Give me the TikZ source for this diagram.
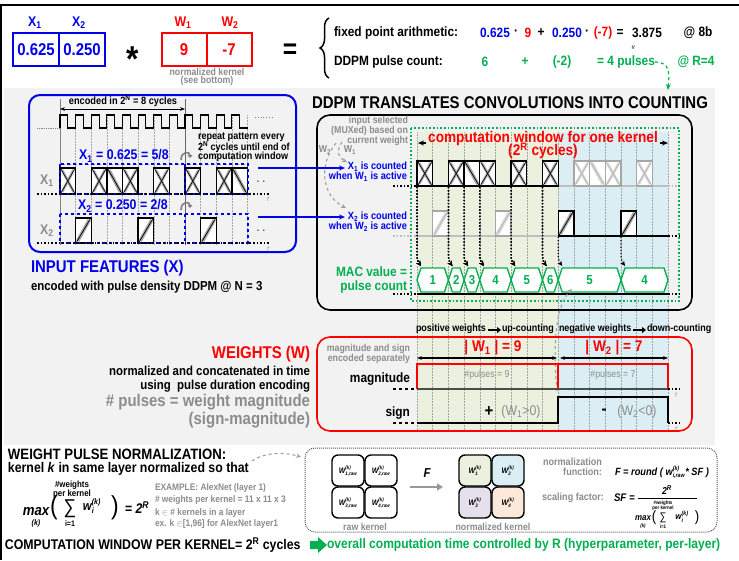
\documentclass[tikz,border=0pt]{standalone}
\usepackage{fontspec}
\setmainfont{Liberation Sans}[FakeStretch=0.88]
\usetikzlibrary{arrows.meta,decorations.pathreplacing}
\definecolor{cBlue}{RGB}{0,0,235}
\definecolor{cRed}{RGB}{255,0,0}
\definecolor{cGreen}{RGB}{0,176,80}
\definecolor{cGrey}{RGB}{140,140,140}
\definecolor{cBg}{RGB}{242,242,242}
\definecolor{cLG}{RGB}{235,241,222}
\definecolor{cLB}{RGB}{218,238,243}
\definecolor{cLV}{RGB}{229,224,236}
\definecolor{cLP}{RGB}{253,233,217}
\colorlet{kO}{black}\colorlet{kI}{black!35}\colorlet{kH}{black}
\colorlet{gO}{black!35}\colorlet{gI}{black!15}\colorlet{gH}{black!30}
\newcommand{\fsz}[2]{\fontsize{#1}{#2}\selectfont}
\newcommand{\wsup}[4]{#1$^{\mbox{\fsz{#4}{#4}#2}}_{\mbox{\fsz{#4}{#4}#3}}$}
\newcommand{\mycross}[5]{%
  \fill[white] (#1,#2) rectangle ++(#3,#4);
  \draw[#5I,line width=2.6pt] (#1+2,#2+2) -- ++(#3-4,#4-4) (#1+2,#2+#4-2) -- ++(#3-4,-#4+4);
  \draw[#5H,line width=0.6pt] (#1+1,#2+1) -- ++(#3-2,#4-2) (#1+1,#2+#4-1) -- ++(#3-2,-#4+2);
  \draw[#5O,line width=1.3pt] (#1,#2) rectangle ++(#3,#4);}
\newcommand{\mydiagA}[5]{%
  \fill[white] (#1,#2) rectangle ++(#3,#4);
  \draw[#5I,line width=3.5pt] (#1+2,#2+2) -- ++(#3-4,#4-4);
  \draw[#5H,line width=0.7pt] (#1+1,#2+1) -- ++(#3-2,#4-2);
  \draw[#5O,line width=1.3pt] (#1,#2) rectangle ++(#3,#4);}
\newcommand{\mydiagB}[5]{%
  \fill[white] (#1,#2) rectangle ++(#3,#4);
  \draw[#5I,line width=3.5pt] (#1+2,#2+#4-2) -- ++(#3-4,-#4+4);
  \draw[#5H,line width=0.7pt] (#1+1,#2+#4-1) -- ++(#3-2,-#4+2);
  \draw[#5O,line width=1.3pt] (#1,#2) rectangle ++(#3,#4);}
\begin{document}
\begin{tikzpicture}[x=1pt,y=-1pt,
  every node/.style={inner sep=0pt,outer sep=0pt},
  tb/.style={font={\bfseries\fsz{#1}{#1}}},
  tbi/.style={font={\bfseries\itshape\fsz{#1}{#1}}},
  arr/.style={-{Stealth[length=6pt,width=5pt]}},
  darr/.style={line width=1.2pt, dotted, -{Stealth[length=5pt,width=4.5pt]}},
  gdash/.style={gray!75, dashed, line width=1.1pt, -{Stealth[length=5pt,width=4.5pt]}},
  gridl/.style={gray!70, densely dotted, line width=0.5pt},
  ksq/.style={line width=1.4pt, rounded corners=6pt}]
\useasboundingbox (0,0) rectangle (739,560);
\fill[white] (0,0) rectangle (739,560);
\fill[cBg] (4,88) rectangle (715,445);
\draw[line width=2.2pt] (0,5) -- (739,5);
\draw[line width=2pt] (1,5) -- (1,560);

% ---------------- top row
\node[tb=14,text=cBlue] (lx1) at (35,23) {X\textsubscript{1}};
\node[tb=14,text=cBlue] (lx2) at (79,23) {X\textsubscript{2}};
\node[tb=14,text=cRed] (lw1) at (183,23) {W\textsubscript{1}};
\node[tb=14,text=cRed] (lw2) at (230,23) {W\textsubscript{2}};
\draw[cBlue,line width=1.8pt] (13,33) rectangle (105,66) (59,33) -- (59,66);
\node[tb=17,text=cBlue] (vx1) at (36,50) {0.625};
\node[tb=17,text=cBlue] (vx2) at (82,50) {0.250};
\node[font={\bfseries\fsz{36}{36}}] (star) at (133,59) {*};
\draw[cRed,line width=1.8pt] (162,33) rectangle (252,66) (207,33) -- (207,66);
\node[tb=17,text=cRed] (vw1) at (184,50) {9};
\node[tb=17,text=cRed] (vw2) at (229,50) {-7};
\node[tb=10,text=cGrey] (nk1) at (207,72) {normalized kernel};
\node[tb=10,text=cGrey] (nk2) at (207,81) {(see bottom)};
\node[font={\bfseries\fsz{28}{28}}] (eq) at (290,51) {=};
\draw[line width=1.5pt, decorate, decoration={brace, amplitude=9pt}] (329,78) -- (329,18);
\node[tb=13.5,anchor=west] (fpa) at (334,33) {fixed point arithmetic:};
\node[tb=13.5,anchor=west] (dpc) at (334,62) {DDPM pulse count:};
\node[tb=13.5,text=cBlue] (e1) at (495,33) {0.625};
\node[tb=13.5] (e2) at (516,33) {·};
\node[tb=13.5,text=cRed] (e3) at (528,33) {9};
\node[tb=13.5] (e4) at (541,33) {+};
\node[tb=13.5,text=cBlue] (e5) at (567,33) {0.250};
\node[tb=13.5] (e6) at (587,33) {·};
\node[tb=13.5,text=cRed] (e7) at (603,33) {(-7)};
\node[tb=13.5] (e8) at (620,33) {=};
\node[tb=13.5] (e9) at (647,33) {3.875};
\node[tb=13.5] (e10) at (698,33) {@ 8b};
\node[font=\fsz{8}{8},rotate=90] (approx) at (634,48) {≈};
\node[tb=13.5,text=cGreen] (g1) at (485,62) {6};
\node[tb=13.5,text=cGreen] (g2) at (525,62) {+};
\node[tb=13.5,text=cGreen] (g3) at (562,62) {(-2)};
\node[tb=13.5,text=cGreen] (g4) at (626,62) {= 4 pulses};
\node[tb=13.5,text=cGreen] (g5) at (696,62) {@ R=4};
\draw[cGreen, dashed, line width=1.2pt, arr] (g4.east) .. controls (671,62) and (669,74) .. (668,90);

% ---------------- input features panel
\draw[cBlue, line width=2pt, rounded corners=11pt] (29,95) rectangle (296,252);
\foreach \k in {1,...,12} \draw[gridl] ({60+15.625*\k},115) -- ({60+15.625*\k},245);
\draw[gray, line width=0.6pt] (60,99) -- (60,245);
\draw[black!60, line width=1pt] (185,99) -- (185,245);
\draw[line width=1pt, {Stealth[length=5pt]}-{Stealth[length=5pt]}] (60,109) -- (185,109);
\node[tb=10.5] (enc) at (123,101) {encoded in 2\textsuperscript{N} = 8 cycles};
\draw[gray, densely dotted, line width=0.8pt] (37,128) -- (60,128);
\draw[line width=1.1pt] (60,128) foreach \k in {0,...,11} { -- ({60+15.625*\k},115) -- ({60+15.625*\k+7.8},115) -- ({60+15.625*\k+7.8},128) -- ({60+15.625*(\k+1)},128) };
\draw[gray, dotted, line width=0.8pt] (255,117) -- (273,117);
\node[tb=10.3,anchor=west] (rp1) at (198,137) {repeat pattern every};
\node[tb=10.3,anchor=west] (rp2) at (198,147) {2\textsuperscript{N} cycles until end of};
\node[tb=10.3,anchor=west] (rp3) at (198,157) {computation window};
\node[tb=14,text=cBlue] (x1eq) at (124,156) {X\textsubscript{1} = 0.625 = 5/8};
\node[tb=14,text=cBlue] (x2eq) at (123,206) {X\textsubscript{2} = 0.250 = 2/8};
\foreach \yy in {160,210}
  \draw[gray, line width=1.6pt, -{Triangle[length=3pt,width=5pt]}] (181,\yy) .. controls (181,\yy-9) and (190,\yy-9) .. (190,\yy-2);
% X1 row
\foreach \k in {0,2,4,6,8,10} \mycross{60+15.625*\k}{168}{15.625}{26}{k}
\foreach \k in {3,11} \mydiagA{60+15.625*\k}{168}{15.625}{26}{k}
% X2 row
\foreach \k in {1,5,9} \mydiagB{60+15.625*\k}{218}{15.625}{25}{k}
\draw[cBlue, dashed, line width=1.2pt] (60,164) rectangle (248,194) (185,164) -- (185,194);
\draw[cBlue, dashed, line width=1.2pt] (60,214) rectangle (248,243) (185,214) -- (185,243);
\draw[line width=1.6pt, dotted] (37,194) -- (270,194);
\draw[line width=1.6pt, dotted] (37,243) -- (270,243);
\node[tb=14,text=cGrey] (lbx1) at (47,181) {X\textsubscript{1}};
\node[tb=14,text=cGrey] (lbx2) at (47,231) {X\textsubscript{2}};
\node[tb=10,text=black!70] (dd1) at (261,182) {. .};
\node[tb=10,text=black!70] (dd2) at (261,231) {. .};
\node[font=\itshape\fsz{6}{6},text=cGrey] (t1) at (268,199) {T};
\node[font=\itshape\fsz{6}{6},text=cGrey] (t2) at (268,249) {T};
\node[tb=17,text=cBlue,anchor=west] (inf) at (31,268) {INPUT FEATURES (X)};
\node[tb=13,anchor=west] (inf2) at (31,287) {encoded with pulse density DDPM @ N = 3};

% ---------------- DDPM panel
\fill[cLG] (417,132) rectangle (558.2,430);
\fill[cLB] (558.2,132) rectangle (668,430);
\foreach \k in {0,...,16} \draw[gridl] ({417+15.6875*\k},132) -- ({417+15.6875*\k},430);
\node[tb=17] (ttl) at (510,103) {DDPM TRANSLATES CONVOLUTIONS INTO COUNTING};
\draw[line width=1.6pt, rounded corners=13pt] (317,115) rectangle (692,310);
\draw[cGreen, dotted, line width=1.7pt] (411,128) rectangle (679,301);
\node[tb=15.5,text=cRed] (cw1) at (543,138) {computation window for one kernel};
\node[tb=15.5,text=cRed] (cw2) at (543,151) {(2\textsuperscript{R} cycles)};
\draw[line width=1.1pt, arr] (cw1.west) ++(-2,5) -- (418,143);
\draw[line width=1.1pt, arr] (cw1.east) ++(2,5) -- (668,143);
\node[tb=10,text=cGrey,anchor=east] (is1) at (408,121) {input selected};
\node[tb=10,text=cGrey,anchor=east] (is2) at (408,131) {(MUXed) based on};
\node[tb=10,text=cGrey,anchor=east] (is3) at (408,141) {current weight};
\node[tb=10,text=cGrey] (mw2) at (325,150) {W\textsubscript{2}};
\node[tb=10,text=cGrey] (mw1) at (350,150) {W\textsubscript{1}};
\draw[gdash] (342,142) .. controls (336,150) and (338,158) .. (347,162);
\draw[gdash] (336,143) .. controls (318,165) and (322,196) .. (346,208);
\draw[cBlue, line width=1.3pt, arr] (258,168) -- (345,168);
\draw[cBlue, line width=1.3pt, arr] (258,217) -- (345,217);
\node[tb=10.5,text=cBlue,anchor=east] (c1) at (407,167) {X\textsubscript{1} is counted};
\node[tb=10.5,text=cBlue,anchor=east] (c2) at (407,177) {when W\textsubscript{1} is active};
\node[tb=10.5,text=cBlue,anchor=east] (c3) at (407,217) {X\textsubscript{2} is counted};
\node[tb=10.5,text=cBlue,anchor=east] (c4) at (407,227) {when W\textsubscript{2} is active};
% X1 selected row
\draw[line width=1.5pt, dotted] (393,186) -- (417,186);
\draw[line width=1.5pt] (417,186) -- (558.2,186);
\draw[gray!50, line width=1.5pt] (558.2,186) -- (668,186);
\draw[gray!50, line width=1.5pt, dotted] (668,186) -- (677,186);
\foreach \k in {0,2,4,6,8} \mycross{417+15.6875*\k}{161}{15.6875}{25}{k}
\mydiagA{417+15.6875*3}{161}{15.6875}{25}{k}
\foreach \k in {10,12,14} \mycross{417+15.6875*\k}{161}{15.6875}{25}{g}
\mydiagA{417+15.6875*11}{161}{15.6875}{25}{g}
% X2 selected row
\draw[gray!50, line width=1.5pt, dotted] (393,236) -- (417,236);
\draw[gray!50, line width=1.5pt] (417,236) -- (558.2,236);
\draw[line width=1.5pt] (558.2,236) -- (668,236);
\draw[line width=1.5pt, dotted] (668,236) -- (680,236);
\foreach \k in {1,5} \mydiagB{417+15.6875*\k}{211}{15.6875}{25}{g}
\foreach \k in {9,13} \mydiagB{417+15.6875*\k}{211}{15.6875}{25}{k}
% arrows to MAC
\foreach \x in {417,448.4,464.1,479.8,511.1,542.5}
  \draw[darr] (\x,187) -- (\x,255) to[out=-90,in=125] (\x+4,266);
\foreach \x in {558.2,621}
  \draw[darr] (\x,237) -- (\x,255) to[out=-90,in=125] (\x+4,266);
% MAC bus
\draw[line width=1.5pt, dotted] (393,294) -- (417,294);
\draw[line width=1.5pt] (417,294) -- (668,294);
\draw[line width=1.5pt, dotted] (668,294) -- (680,294);
\foreach \ua/\ub/\ul in {417/448.4/1, 448.4/464.1/2, 464.1/479.8/3, 479.8/511.1/4, 511.1/542.5/5, 542.5/558.2/6, 558.2/621/5, 621/668/4} {
  \draw[cGreen, line width=1.3pt, fill=white] (\ua,280) -- (\ua+4,268) -- (\ub-4,268) -- (\ub,280) -- (\ub-4,292) -- (\ua+4,292) -- cycle;
  \node[tb=13,text=cGreen] at ({(\ua+\ub)/2},280) {\ul};
}
\node[tb=13.5,text=cGreen,anchor=east] (mac1) at (407,272) {MAC value =};
\node[tb=13.5,text=cGreen,anchor=east] (mac2) at (407,287) {pulse count};

% ---------------- weights panel
\node[tb=10.2,anchor=west] (pw) at (416,329) {positive weights};
\draw[line width=1.6pt, -{Triangle[length=4pt,width=6pt]}] (488,330) -- (501,330);
\node[tb=10.2,anchor=west] (uc) at (502,329) {up-counting};
\node[tb=10.2,anchor=west] (nw) at (559,329) {negative weights};
\draw[line width=1.6pt, -{Triangle[length=4pt,width=6pt]}] (633,330) -- (646,330);
\node[tb=10.2,anchor=west] (dc) at (647,329) {down-counting};
\draw[gdash] (557,391) .. controls (552,340) and (557,304) .. (572,289);
\draw[cRed, line width=1.6pt, rounded corners=13pt] (317,337) rectangle (692,431);
\node[tb=17,text=cRed,anchor=east] (wt) at (310,354) {WEIGHTS (W)};
\node[tb=13,anchor=east] (wt2) at (310,371) {normalized and concatenated in time};
\node[tb=13,anchor=east] (wt3) at (310,386) {using~ pulse duration encoding};
\node[tb=17,text=cGrey,anchor=east] (wt4) at (310,402) {\# pulses = weight magnitude};
\node[tb=17,text=cGrey,anchor=east] (wt5) at (310,420) {(sign-magnitude)};
\node[tb=10,text=cGrey,anchor=east] (ms1) at (410,349) {magnitude and sign};
\node[tb=10,text=cGrey,anchor=east] (ms2) at (410,359) {encoded separately};
\node[tb=15.5,text=cRed] (aw1) at (493,348) {| W\textsubscript{1} | = 9};
\node[tb=15.5,text=cRed] (aw2) at (614,348) {| W\textsubscript{2} | = 7};
\draw[line width=1.1pt, {Stealth[length=5pt]}-{Stealth[length=5pt]}] (417,358) -- (557,358);
\draw[line width=1.1pt, {Stealth[length=5pt]}-{Stealth[length=5pt]}] (560,358) -- (668,358);
\draw[cRed, line width=1.4pt] (417,389) -- (417,364) -- (557.5,364) -- (557.5,389);
\draw[cRed, line width=1.4pt] (558.7,389) -- (558.7,364) -- (668,364) -- (668,389);
\draw[black!70, line width=1.5pt] (417,389) -- (668,389);
\draw[line width=1.5pt, dashed] (393,389) -- (417,389);
\draw[line width=1.5pt, dotted] (668,389) -- (680,389);
\node[font=\fsz{10}{10},text=cGrey] (np1) at (487,375) {\#pulses = 9};
\node[font=\fsz{10}{10},text=cGrey] (np2) at (613,375) {\#pulses = 7};
\node[tb=13.5,anchor=east] (mag) at (410,379) {magnitude};
\node[tb=13.5,anchor=east] (sgn) at (410,413) {sign};
\draw[line width=1.5pt, dashed] (393,423) -- (417,423);
\draw[line width=1.5pt] (417,423) -- (558.2,423) -- (558.2,397) -- (668,397) -- (668,423);
\draw[line width=1.5pt, dotted] (668,423) -- (680,423);
\node[font=\itshape\fsz{6}{6},text=cGrey] (t3) at (676,395) {T};
\node[font=\itshape\fsz{6}{6},text=cGrey] (t4) at (676,429) {T};
\node[tb=17] (plus) at (489,412) {+};
\node[font=\fsz{14}{14},text=cGrey] (wp) at (521,412) {(W\textsubscript{1}>0)};
\node[tb=17] (minus) at (604,412) {-};
\node[font=\fsz{14}{14},text=cGrey] (wn) at (637,412) {(W\textsubscript{2}<0)};

% ---------------- bottom: normalization
\node[tb=15,anchor=west] (wpn) at (8,454) {WEIGHT PULSE NORMALIZATION:};
\node[tb=14,anchor=west] (kk) at (8,469) {kernel \textit{k} in same layer normalized so that};
\draw[gdash] (252,461) .. controls (265,452) and (285,452) .. (301,457);
\node[tbi=15] (fmax) at (36,512) {max};
\node[tbi=8] (fk) at (36,523) {(k)};
\node[font=\fsz{26}{26}] (fpl) at (54,508) {(};
\node[tb=9] (fw1) at (72,485) {\#weights};
\node[tb=9] (fw2) at (72,494) {per kernel};
\node[font=\fsz{20}{20}] (fsum) at (70,509) {∑};
\node[tb=8] (fi) at (70,524) {i=1};
\node[tbi=13] (fwi) at (92,506) {\wsup{w}{(k)}{i}{8}};
\node[font=\fsz{26}{26}] (fpr) at (115,508) {)};
\node[tbi=14] (f2r) at (137,508) {= 2\textsuperscript{R}};
\node[tb=9.5,text=cGrey,anchor=west] (ex1) at (155,488) {EXAMPLE: AlexNet (layer 1)};
\node[tb=9.5,text=cGrey,anchor=west] (ex2) at (155,500) {\# weights per kernel = 11 x 11 x 3};
\node[tb=9.5,text=cGrey,anchor=west] (ex3) at (155,513) {k $\in$ \# kernels in a layer};
\node[tb=9.5,text=cGrey,anchor=west] (ex4) at (155,524) {ex. k $\in$[1,96] for AlexNet layer1};
\draw[black!65, densely dotted, line width=1pt, rounded corners=10pt] (305,448) rectangle (717,532);
% raw kernel
\draw[ksq] (332,455) rectangle (364,486);
\draw[ksq] (365,455) rectangle (397,486);
\draw[ksq] (332,487) rectangle (364,518);
\draw[ksq] (365,487) rectangle (397,518);
\node[tbi=8] (r1) at (348,471) {\wsup{W}{(k)}{1,raw}{5}};
\node[tbi=8] (r2) at (381,471) {\wsup{W}{(k)}{2,raw}{5}};
\node[tbi=8] (r3) at (348,503) {\wsup{W}{(k)}{3,raw}{5}};
\node[tbi=8] (r4) at (381,503) {\wsup{W}{(k)}{4,raw}{5}};
\node[tb=10,text=cGrey] (rk) at (365,527) {raw kernel};
\node[tbi=13] (fF) at (427,473) {F};
\draw[gray!80, line width=1.5pt, -{Triangle[length=6pt,width=7pt]}] (410,487) -- (443,487);
% normalized kernel
\draw[ksq, fill=cLG] (459,455) rectangle (491,486);
\draw[ksq, fill=cLB] (492,455) rectangle (524,486);
\draw[ksq, fill=cLV] (459,487) rectangle (491,518);
\draw[ksq, fill=cLP] (492,487) rectangle (524,518);
\node[tbi=8] (n1) at (475,471) {\wsup{W}{(k)}{1}{5}};
\node[tbi=8] (n2) at (508,471) {\wsup{W}{(k)}{2}{5}};
\node[tbi=8] (n3) at (475,503) {\wsup{W}{(k)}{3}{5}};
\node[tbi=8] (n4) at (508,503) {\wsup{W}{(k)}{4}{5}};
\node[tb=10,text=cGrey] (nkb) at (493,527) {normalized kernel};
\node[tb=10.3,text=cGrey,anchor=east] (nf1) at (602,462) {normalization};
\node[tb=10.3,text=cGrey,anchor=east] (nf2) at (602,472) {function:};
\node[tbi=10.5,anchor=west] (nf3) at (615,472) {F = round ( \wsup{w}{(k)}{i,raw}{6}* SF )};
\node[tb=10.3,text=cGrey,anchor=east] (sf1) at (604,498) {scaling factor:};
\node[tbi=11,anchor=west] (sf2) at (614,498) {SF =};
\draw[line width=1pt] (638,498) -- (697,498);
\node[tbi=10] (sf3) at (667,490) {2\textsuperscript{R}};
\node[tb=5] (sf4) at (663,503) {\#weights};
\node[tb=5] (sf5) at (663,508) {per kernel};
\node[tbi=9] (sf6) at (643,518) {max};
\node[tbi=5] (sf7) at (643,526) {(k)};
\node[font=\fsz{15}{15}] (sf8) at (654,518) {(};
\node[font=\fsz{11}{11}] (sf9) at (663,518) {∑};
\node[tbi=9] (sf10) at (682,517) {\wsup{w}{(k)}{i}{6}};
\node[font=\fsz{15}{15}] (sf11) at (697,518) {)};
\node[tb=5] (sf12) at (663,527) {i=1};
% bottom line
\node[tb=14,anchor=west] (cwpk) at (5,545) {COMPUTATION WINDOW PER KERNEL= 2\textsuperscript{R} cycles};
\fill[cGreen] (310,541) -- (318,541) -- (318,537) -- (327,545) -- (318,553) -- (318,549) -- (310,549) -- cycle;
\node[tb=13.7,text=cGreen,anchor=west] (oct) at (327,545) {overall computation time controlled by R (hyperparameter, per-layer)};
\end{tikzpicture}
\end{document}
